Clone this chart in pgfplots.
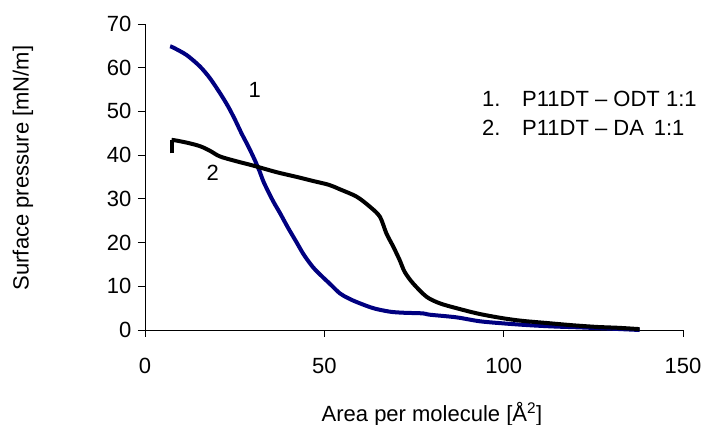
\documentclass[border=0pt]{standalone}
\usepackage{pgfplots}
\pgfplotsset{compat=1.18}
\usepackage{fontspec}
\setmainfont{Liberation Sans}
\definecolor{navyc}{RGB}{0,0,128}
\begin{document}
\begin{tikzpicture}[x=1pt,y=1pt]
\useasboundingbox (0,0) rectangle (705,425);
\begin{axis}[
  at={(145pt,95pt)}, anchor=south west,
  scale only axis, width=538pt, height=306pt,
  xmin=0, xmax=150, ymin=0, ymax=70,
  axis x line*=bottom, axis y line*=left,
  axis line style={-, black, line width=0.9pt, shorten <=-7pt},
  xtick={0,50,100,150}, ytick={0,10,...,70},
  tick align=outside, major tick length=7pt,
  tick style={black, line width=0.9pt},
  minor tick num=0,
  /pgf/number format/assume math mode=true,
  ticklabel style={font=\fontsize{22}{26}\selectfont},
  xticklabel style={yshift=-18pt},
  yticklabel style={xshift=-3pt},
  clip=false,
]
\addplot[navyc, line width=4pt, line join=round, smooth, tension=0.5] coordinates {
(7.0,64.9) (7.9,64.6) (11.6,62.9) (15.3,60.3) (18.1,57.6) (20.9,54.2)
(23.2,51.1) (25.1,48.1) (26.9,45.0) (28.8,42.0) (30.6,38.9) (32.0,36.2)
(33.0,34.0) (34.4,31.6) (35.9,29.2) (37.6,26.8) (39.8,23.5)
(42.3,20.0) (44.3,17.2) (46.8,14.4) (49.3,12.3) (51.5,10.6) (54.3,8.4)
(56.6,7.3) (59.0,6.4) (63.6,5.0) (68.2,4.2) (72.0,3.95) (77.5,3.8)
(79.4,3.5) (86.8,2.9) (93.3,2.0) (100.1,1.5) (107.0,1.1)
(114.0,0.8) (121.0,0.6) (130.0,0.3) (137.9,0.0)
};
\addplot[black, line width=4pt] coordinates {(7.4,40.4) (7.4,43.5)};
\addplot[black, line width=4pt, line join=round, smooth, tension=0.5] coordinates {
(7.4,43.5) (9.0,43.3) (12.5,42.7) (15.5,42.0) (18.1,41.0) (20.9,39.7)
(25.5,38.6) (30.2,37.6) (36.7,36.1) (42.4,35.0) (46.8,34.1) (51.3,33.2)
(54.3,32.2) (59.0,30.5) (62.7,28.2) (65.5,25.9) (67.3,22.1) (69.2,19.1)
(71.0,16.0) (72.4,13.3) (74.7,10.7) (78.5,7.6) (82.2,6.1) (86.8,5.0)
(93.1,3.7) (99.7,2.7) (105.1,2.1) (112.0,1.6) (119.0,1.1) (126.0,0.7)
(132.0,0.5) (137.9,0.2)
};
\node[font=\fontsize{22}{26}\selectfont] at (axis cs:30.6,54.9) {1};
\node[font=\fontsize{22}{26}\selectfont] at (axis cs:18.9,35.9) {2};
\end{axis}
\node[anchor=west, inner sep=0pt, font=\fontsize{22}{26}\selectfont] at (482,326) {1.};
\node[anchor=west, inner sep=0pt, font=\fontsize{22}{26}\selectfont] at (522,326) {P11DT – ODT 1:1};
\node[anchor=west, inner sep=0pt, font=\fontsize{22}{26}\selectfont] at (482,297) {2.};
\node[anchor=west, inner sep=0pt, font=\fontsize{22}{26}\selectfont] at (522,297) {P11DT – DA\, 1:1};
\node[rotate=90, inner sep=0pt, font=\fontsize{22}{26}\selectfont] at (23,257) {Surface pressure [mN/m]};
\node[inner sep=0pt, font=\fontsize{22}{26}\selectfont] at (432,11) {Area per molecule [Å\textsuperscript{2}]};
\end{tikzpicture}
\end{document}
